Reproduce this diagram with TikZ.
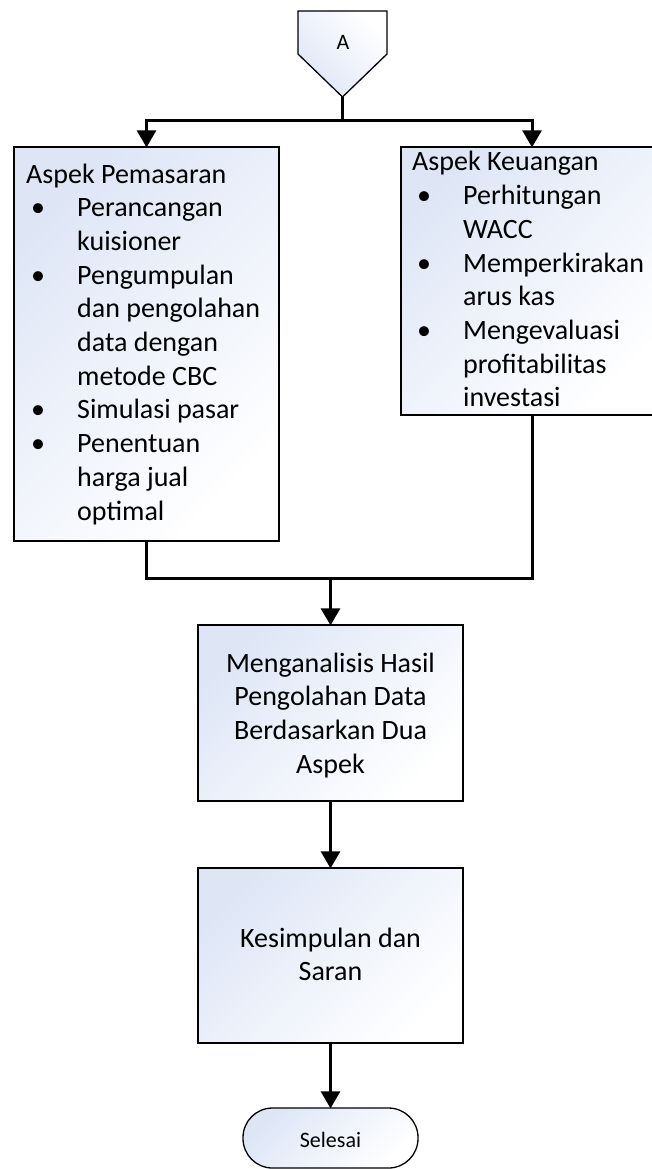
\documentclass[tikz,border=0pt]{standalone}
\usepackage{fontspec}
\setmainfont{Carlito}
\usetikzlibrary{arrows.meta}
\definecolor{boxblue}{RGB}{222,230,246}
\newcommand\myline[1]{\hbox{#1}}
\newcommand\mycline[1]{\hbox to 0pt{\hss#1\hss}}
\newcommand\bul{\makebox[51pt][l]{\hspace{5pt}\textbullet}}
\newcommand\ind{\hspace*{51pt}}
\tikzset{
  boxshade/.style={top color=boxblue, bottom color=white, shading angle=45},
  flowbox/.style={draw=black, line width=1.3pt, boxshade, inner sep=0pt},
  bigtext/.style={font=\fontsize{28}{33.7}\selectfont, inner sep=0pt, text=black},
  smalltext/.style={font=\fontsize{22}{26}\selectfont, inner sep=0pt, text=black},
  conn/.style={line width=3pt, draw=black},
  arr/.style={conn, -{Triangle[width=19pt,length=17pt]}, shorten >=-1pt}
}
\begin{document}
\begin{tikzpicture}[x=1pt,y=-1pt]
\useasboundingbox (0,0) rectangle (652,1169);
\clip (0,0) rectangle (652,1169);
\fill[white] (0,0) rectangle (652,1169);
% off-page connector A
\draw[line width=1.3pt, top color=boxblue, bottom color=white, shading angle=135]
  (298,11) -- (387,11) -- (387,54) -- (342.5,97) -- (298,54) -- cycle;
\coordinate (Atip) at (342.5,97);
\node[smalltext, anchor=base] (Alab) at (343,50) {A};
% boxes
\node[flowbox, minimum width=265pt, minimum height=394pt] (pem) at (146.5,344) {};
\node[flowbox, minimum width=262pt, minimum height=268pt] (keu) at (532,281) {};
\node[flowbox, minimum width=265pt, minimum height=176pt] (ana) at (330.5,713) {};
\node[flowbox, minimum width=265pt, minimum height=175pt] (kes) at (330.5,955.5) {};
\node[flowbox, minimum width=175pt, minimum height=60pt, rounded corners=29.5pt] (sel) at (330.5,1138) {};
% texts
\node[bigtext, anchor=base west] (pemtxt) at (26,183) {\vtop{\baselineskip=33.7pt
  \myline{Aspek Pemasaran}
  \myline{\bul Perancangan}
  \myline{\ind kuisioner}
  \myline{\bul Pengumpulan}
  \myline{\ind dan pengolahan}
  \myline{\ind data dengan}
  \myline{\ind metode CBC}
  \myline{\bul Simulasi pasar}
  \myline{\bul Penentuan}
  \myline{\ind harga jual}
  \myline{\ind optimal}}};
\node[bigtext, anchor=base west] (keutxt) at (412,171) {\vtop{\baselineskip=33.7pt
  \myline{Aspek Keuangan}
  \myline{\bul Perhitungan}
  \myline{\ind WACC}
  \myline{\bul Memperkirakan}
  \myline{\ind arus kas}
  \myline{\bul Mengevaluasi}
  \myline{\ind profitabilitas}
  \myline{\ind investasi}}};
\node[bigtext, anchor=base] (anatxt) at (330.5,672) {\vtop{\baselineskip=33.7pt
  \mycline{Menganalisis Hasil}
  \mycline{Pengolahan Data}
  \mycline{Berdasarkan Dua}
  \mycline{Aspek}}};
\node[bigtext, anchor=base] (kestxt) at (330.5,947) {\vtop{\baselineskip=33.7pt
  \mycline{Kesimpulan dan}
  \mycline{Saran}}};
\node[smalltext, anchor=base] (seltxt) at (330.5,1147) {Selesai};
% connectors
\coordinate (split) at (342.5,121);
\coordinate (splitL) at (pem.north |- split);
\coordinate (splitR) at (keu.north |- split);
\coordinate (join) at (ana.north |- 0,578);
\coordinate (joinL) at (pem.south |- join);
\coordinate (joinR) at (keu.south |- join);
\draw[conn] (Atip) -- (split);
\draw[conn, line cap=rect] (splitL) -- (splitR);
\draw[arr] (splitL) -- (pem.north);
\draw[arr] (splitR) -- (keu.north);
\draw[conn, line join=miter] (pem.south) -- (joinL) -- (joinR) -- (keu.south);
\draw[arr] (join) -- (ana.north);
\draw[arr] (ana.south) -- (kes.north);
\draw[arr] (kes.south) -- (sel.north);
\end{tikzpicture}
\end{document}
